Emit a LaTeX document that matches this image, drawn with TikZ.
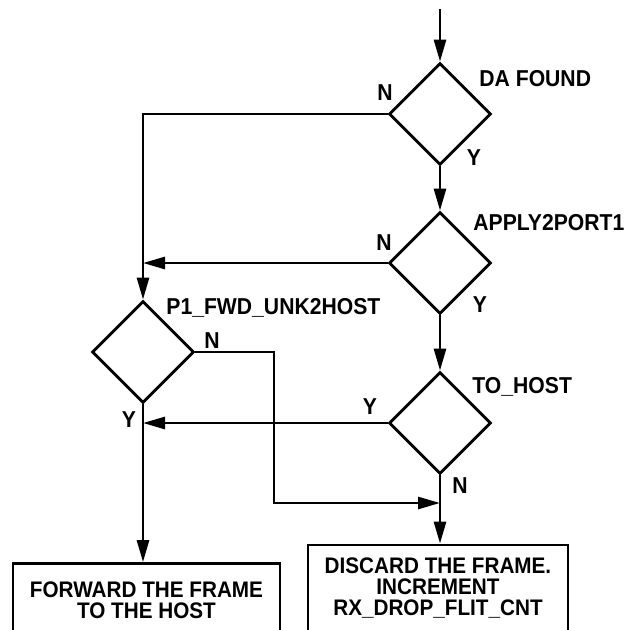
\documentclass[tikz,border=0pt]{standalone}
\usepackage{fontspec}
\setmainfont{Liberation Sans}[FakeStretch=0.92]
\usetikzlibrary{shapes.geometric,arrows.meta}

\tikzset{
  decision/.style={draw, diamond, line width=2.8pt, minimum width=102pt, minimum height=102pt, inner sep=0pt},
  action/.style={draw, rectangle, line width=2.8pt, align=center, inner sep=0pt},
  tag/.style={inner sep=0pt, font=\bfseries\fontsize{23}{21}\selectfont}
}

\begin{document}
\begin{tikzpicture}[x=1pt, y=-1pt, line width=2.8pt, >={Triangle[length=22pt, width=12pt]},
    font=\bfseries\fontsize{22.5}{21}\selectfont]
        \useasboundingbox (0,0) rectangle (639,629);

        \node[decision] (dafound) at (440,114) {};
        \node[decision] (apply) at (440,263) {};
        \node[decision] (tohost) at (440,423) {};
        \node[decision] (unkhost) at (143,352) {};

        \node[action, minimum width=267pt, minimum height=73pt] (forward) at (146.5,600)
          {FORWARD THE FRAME\\TO THE HOST};
        \node[action, minimum width=260pt, minimum height=87pt] (discard) at (438,588.5)
          {DISCARD THE FRAME.\\INCREMENT\\RX\_DROP\_FLIT\_CNT};

        \node[tag, anchor=west] (daname) at (478,79) {DA FOUND};
        \node[tag, anchor=west] (applyname) at (472,223) {APPLY2PORT1};
        \node[tag, anchor=west] (tohostname) at (471,387) {TO\_HOST};
        \node[tag, anchor=west] (unkname) at (165,308) {P1\_FWD\_UNK2HOST};

        \node[tag] (dan) at (385,93) {N};
        \node[tag] (day) at (474,158) {Y};
        \node[tag] (applyn) at (384,243) {N};
        \node[tag] (applyy) at (480,305) {Y};
        \node[tag] (tohosty) at (370,407) {Y};
        \node[tag] (tohostn) at (460,486) {N};
        \node[tag] (unkn) at (212,341) {N};
        \node[tag] (unky) at (129,420) {Y};

        \coordinate (start) at (440,9);
        \coordinate (nturn) at (274,503);
        \coordinate (nmerge) at (440,503);

        \draw[->] (start) -- (dafound.north);
        \draw[->] (dafound.south) -- (apply.north);
        \draw[->] (apply.south) -- (tohost.north);
        \draw[->] (tohost.south) -- (tohost.south |- discard.north);
        \draw[->] (dafound.west) -| (unkhost.north);
        \draw[->] (apply.west) -- (apply.west -| unkhost.north);
        \draw[->] (tohost.west) -- (tohost.west -| unkhost.south);
        \draw[->] (unkhost.east) -| (nturn) -- (nmerge);
        \draw[->] (unkhost.south) -- (unkhost.south |- forward.north);
      \end{tikzpicture}
\end{document}
